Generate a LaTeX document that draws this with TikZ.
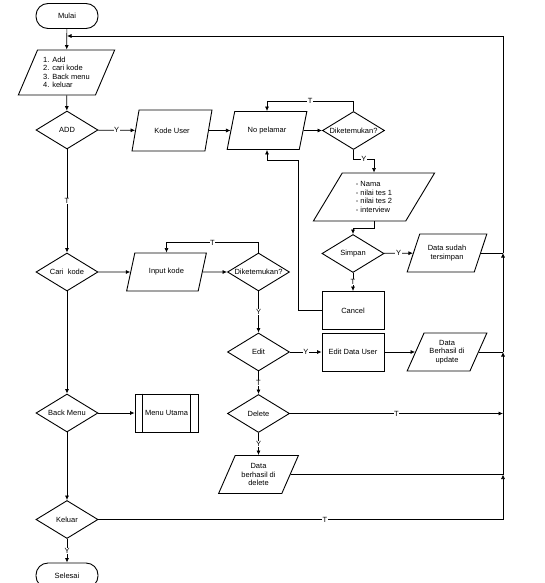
\documentclass[tikz,border=0pt]{standalone}
\usepackage{fontspec}
\setmainfont{Liberation Sans}
\usetikzlibrary{shapes.geometric,arrows.meta}
\begin{document}
\begin{tikzpicture}[x=1pt,y=-1pt,>={Latex[length=4.5pt,width=4pt]},line width=.7pt,
    every node/.style={font=\fontsize{7.5}{8.5}\selectfont},
    terminal/.style={draw,line width=.9pt,rounded corners=12pt,minimum width=62pt,minimum height=25pt},
    proses/.style={draw,line width=.9pt,minimum width=62pt,minimum height=38pt},
    data/.style={draw,line width=.9pt,trapezium,trapezium left angle=62,trapezium right angle=118,
        trapezium stretches=true,minimum width=80pt,minimum height=38pt,inner sep=1pt,align=center},
    keputusan/.style={draw,line width=.9pt,diamond,aspect=1.63,minimum width=62pt,minimum height=38pt,inner sep=0pt},
    lbl/.style={fill=white,inner sep=.6pt}]
    \useasboundingbox (0,0) rectangle (545,583);
    % kolom kiri
    \node[terminal] (mulai) at (67,16) {Mulai};
    \node[data,minimum width=97pt,minimum height=45pt,trapezium left angle=64,trapezium right angle=116,align=left] (menu) at (66.5,72.5) {1. Add\\2. cari kode\\3. Back menu\\4. keluar};
    \node[keputusan] (add) at (67,130) {ADD};
    \node[keputusan] (cari) at (67,272) {Cari\ \ kode};
    \node[keputusan] (back) at (67,413) {Back Menu};
    \node[keputusan] (keluar) at (67,519.5) {Keluar};
    \node[terminal] (selesai) at (67,575.5) {Selesai};
    % add
    \node[data,minimum height=41pt] (kode) at (172,130.5) {Kode User};
    \node[data] (nopel) at (267,130.5) {No pelamar};
    \node[keputusan] (cek1) at (353.5,130.5) {Diketemukan?};
    \node[data,minimum width=122pt,minimum height=48pt,align=left] (nilai) at (374,197) {- Nama\\- nilai tes 1\\- nilai tes 2\\- interview};
    \node[keputusan] (simpan) at (353,253.5) {Simpan};
    \node[data] (tersimpan) at (447,253) {Data sudah\\tersimpan};
    \node[proses] (cancel) at (353,310.5) {Cancel};
    % cari kode
    \node[data] (inkode) at (166.5,272) {Input kode};
    \node[keputusan] (cek2) at (258.5,272) {Diketemukan?};
    \node[keputusan] (edit) at (258.5,352) {Edit};
    \node[proses] (editdata) at (353,352) {Edit Data User};
    \node[data] (update) at (447,352) {Data\\Berhasil di\\update};
    \node[keputusan] (delete) at (258.5,413.5) {Delete};
    \node[data] (hapus) at (258.5,474.5) {Data\\berhasil di\\delete};
    % back menu
    \node[proses,minimum width=63pt] (utama) at (166.5,413) {Menu Utama};
    \draw[line width=.9pt] ([xshift=8pt]utama.north west)--([xshift=8pt]utama.south west);
    \draw[line width=.9pt] ([xshift=-8pt]utama.north east)--([xshift=-8pt]utama.south east);
    % garis kembali
    \coordinate (r0) at (503,36);
    \coordinate (r1) at (503,253);
    \coordinate (r2) at (503,352);
    \coordinate (r3) at (503,413.5);
    \coordinate (r4) at (503,474.5);
    \coordinate (r5) at (503,519.5);
    \coordinate (c1) at (298,160);
    \draw[->](mulai)--(menu);
    \draw[->](menu)--(add);
    \draw[->](add)--node[lbl]{Y}(kode);
    \draw[->](kode)--(nopel);
    \draw[->](nopel)--(cek1);
    \draw[->](cek1.north)--++(0,-10)-|node[lbl,pos=.25]{T}(nopel.north);
    \draw[->](cek1.south)--++(0,9)-|node[lbl,pos=.25]{Y}(nilai.north);
    \draw[->](nilai.south)--++(0,7)-|(simpan.north);
    \draw[->](simpan)--node[lbl]{Y}(tersimpan);
    \draw[->](simpan)--node[lbl]{T}(cancel);
    \draw[->](cancel.west)-|(c1)-|(nopel.south);
    \draw[->](add)--node[lbl]{T}(cari);
    \draw[->](cari)--(inkode);
    \draw[->](inkode)--(cek2);
    \draw[->](cek2.north)--++(0,-10)-|node[lbl,pos=.25]{T}(inkode.north);
    \draw[->](cek2)--node[lbl]{Y}(edit);
    \draw[->](edit)--node[lbl]{Y}(editdata);
    \draw[->](editdata)--(update);
    \draw[->](edit)--node[lbl]{T}(delete);
    \draw[->](delete)--node[lbl]{Y}(hapus);
    \draw[->](cari)--(back);
    \draw[->](back)--(utama);
    \draw[->](back)--(keluar);
    \draw[->](keluar)--node[lbl]{Y}(selesai);
    \draw(keluar)--node[lbl,pos=.56]{T}(r5);
    \draw[->](r5)--(r4);
    \draw[->](r4)--(r2);
    \draw[->](r2)--(r1);
    \draw(r1)--(r0);
    \draw[->](r0)--(mulai|-r0);
    \draw(tersimpan)--(r1);
    \draw(update)--(r2);
    \draw(hapus)--(r4);
    \draw[->](delete)--node[lbl]{T}(r3);
\end{tikzpicture}
\end{document}
